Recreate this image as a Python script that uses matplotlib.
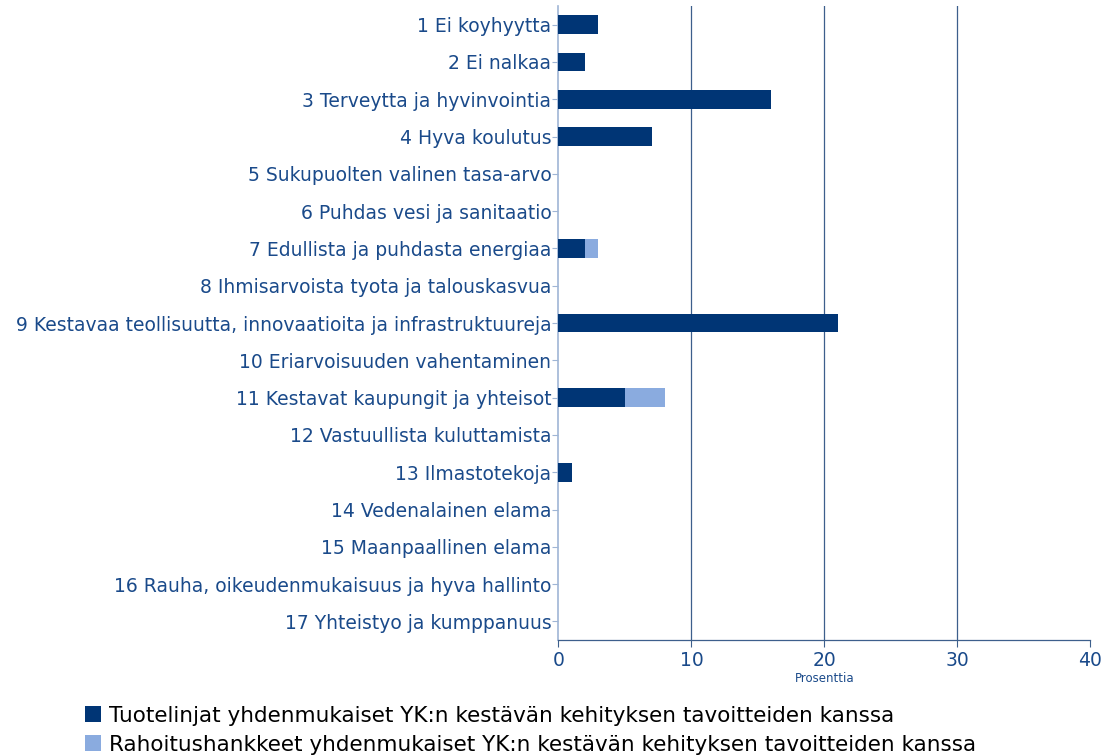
import matplotlib
matplotlib.use("Agg")
import matplotlib.pyplot as plt
import numpy as np

categories = [
    "1 Ei koyhyytta", "2 Ei nalkaa", "3 Terveytta ja hyvinvointia", "4 Hyva koulutus",
    "5 Sukupuolten valinen tasa-arvo", "6 Puhdas vesi ja sanitaatio",
    "7 Edullista ja puhdasta energiaa", "8 Ihmisarvoista tyota ja talouskasvua",
    "9 Kestavaa teollisuutta, innovaatioita ja infrastruktuureja",
    "10 Eriarvoisuuden vahentaminen", "11 Kestavat kaupungit ja yhteisot",
    "12 Vastuullista kuluttamista", "13 Ilmastotekoja", "14 Vedenalainen elama",
    "15 Maanpaallinen elama", "16 Rauha, oikeudenmukaisuus ja hyva hallinto",
    "17 Yhteistyo ja kumppanuus",
]
tuotelinjat = [3, 2, 16, 7, 0, 0, 2, 0, 21, 0, 5, 0, 1, 0, 0, 0, 0]
rahoitus = [0, 0, 0, 0, 0, 0, 1, 0, 0, 0, 3, 0, 0, 0, 0, 0, 0]
series_names = [
    "Tuotelinjat yhdenmukaiset YK:n kestävän kehityksen tavoitteiden kanssa",
    "Rahoitushankkeet yhdenmukaiset YK:n kestävän kehityksen tavoitteiden kanssa",
]
x_ticks = [0, 10, 20, 30, 40]

DARK = "#003575"
LIGHT = "#8aabdf"
TXT = "#1a4a8a"
GRID = "#3d5f8c"

plt.rcParams["font.family"] = "DejaVu Sans"
fig = plt.figure(figsize=(11.18, 7.56), dpi=100)
ax = fig.add_axes([0.4995, 0.1534, 0.4758, 0.8386])

y = np.arange(len(categories))
ax.barh(y, tuotelinjat, height=0.5, color=DARK, label=series_names[0], zorder=3)
ax.barh(y, rahoitus, left=tuotelinjat, height=0.5, color=LIGHT, label=series_names[1], zorder=3)

ax.set_ylim(len(categories) - 0.5, -0.5)
ax.set_xlim(0, 40)
ax.set_yticks(y)
ax.set_yticklabels(categories, fontsize=13.5, color=TXT)
ax.set_xticks(x_ticks)
ax.set_xticklabels([str(t) for t in x_ticks], fontsize=13.5, color=TXT)
ax.tick_params(axis="y", length=4, color="#9fb5d5", pad=1)
ax.tick_params(axis="x", length=5, color=GRID, pad=3)
for v in [10, 20, 30]:
    ax.axvline(v, color=GRID, lw=0.9, zorder=1)
for s in ["top", "right"]:
    ax.spines[s].set_visible(False)
ax.spines["left"].set_color("#9fb5d5")
ax.spines["left"].set_linewidth(1.2)
ax.spines["bottom"].set_color(GRID)
ax.spines["bottom"].set_linewidth(0.9)
ax.set_xlabel("Prosenttia", fontsize=8.5, color=TXT, labelpad=1)

handles, labels = ax.get_legend_handles_labels()
fig.legend(handles, labels, loc="lower left", bbox_to_anchor=(0.059, -0.024),
           frameon=False, handlelength=0.75, handleheight=0.75,
           handletextpad=0.35, labelspacing=0.42, prop={"family": "DejaVu Sans", "size": 15.5})

fig.savefig("out.png", dpi=100)
